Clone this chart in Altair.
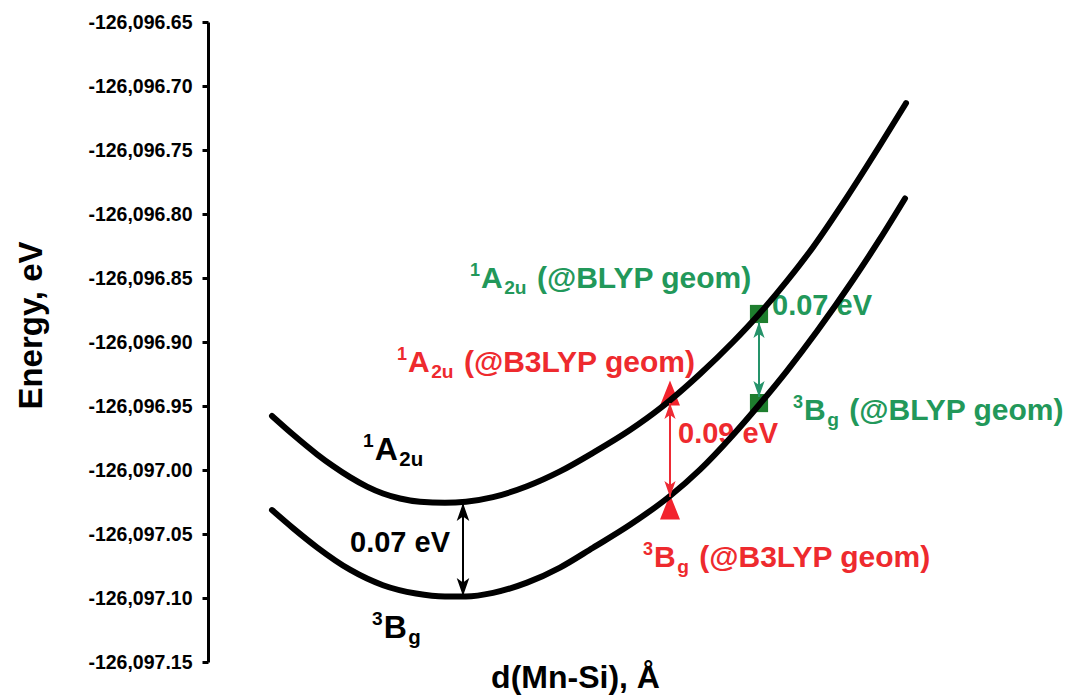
import altair as alt
import pandas as pd

# ---------------- data ----------------
# x: position along d(Mn-Si) (arbitrary units, axis unlabeled); y: energy in eV
d_1A2u = [64, 85, 109, 125, 142, 159, 175, 192, 212, 237, 258, 285, 319, 352,
          385, 422, 452, 462, 492, 525, 551, 579, 605, 639, 672, 698]
E_1A2u = [-126096.9578, -126096.9723, -126096.9877, -126096.9969, -126097.0056,
          -126097.0130, -126097.0184, -126097.0223, -126097.0248, -126097.0256,
          -126097.0248, -126097.0212, -126097.0127, -126097.0011, -126096.9866,
          -126096.9688, -126096.9519, -126096.9456, -126096.9250, -126096.9000,
          -126096.8783, -126096.8523, -126096.8259, -126096.7868, -126096.7463,
          -126096.7134]

d_3Bg = [64, 85, 109, 142, 175, 208, 237, 258, 285, 319, 352, 385, 422, 462,
         492, 525, 551, 579, 609, 645, 672, 697]
E_3Bg = [-126097.0313, -126097.0454, -126097.0604, -126097.0779, -126097.0900,
         -126097.0965, -126097.0988, -126097.0988, -126097.0960, -126097.0880,
         -126097.0762, -126097.0607, -126097.0428, -126097.0203, -126096.9997,
         -126096.9726, -126096.9492, -126096.9225, -126096.8916, -126096.8516,
         -126096.8195, -126096.7879]

# single-point markers
mk_d = [462, 462, 551, 551]
mk_E = [-126096.9398, -126097.0289, -126096.8781, -126096.9477]
mk_geom = ["B3LYP", "B3LYP", "BLYP", "BLYP"]

# double arrows (gap indicators)
arr_d = [255, 462, 551]
arr_top = [-126097.0258, -126096.9477, -126096.8844]
arr_bot = [-126097.0984, -126097.0211, -126096.9430]
arr_group = ["state", "B3LYP", "BLYP"]

# state labels: sup, main, sub, rest
lab_d = [155, 164, 262, 189, 585, 435]
lab_E = [-126096.9922, -126097.1313, -126096.8578, -126096.9234, -126096.9609, -126097.0758]
lab_sup = ["1", "3", "1", "1", "3", "3"]
lab_main = ["A", "B", "A", "A", "B", "B"]
lab_sub = ["2u", "g", "2u", "2u", "g", "g"]
lab_rest = ["", "", "(@BLYP geom)", "(@B3LYP geom)", "(@BLYP geom)", "(@B3LYP geom)"]
lab_group = ["state", "state", "BLYP", "B3LYP", "BLYP", "B3LYP"]

# gap labels
gap_d = [142, 564, 470]
gap_E = [-126097.0641, -126096.8789, -126096.9789]
gap_text = ["0.07 eV", "0.07 eV", "0.09 eV"]
gap_group = ["state", "BLYP", "B3LYP"]

y_ticks = [-126097.15, -126097.10, -126097.05, -126097.00, -126096.95, -126096.90,
           -126096.85, -126096.80, -126096.75, -126096.70, -126096.65]

# ---------------- styling ----------------
TEXT_COL = {"state": "#000000", "BLYP": "#22985A", "B3LYP": "#EE2A2E"}
ARROW_COL = {"state": "#000000", "BLYP": "#25936A", "B3LYP": "#EE2A34"}
FONT = "Liberation Sans"
W, H = 850, 640
Y0, Y1 = -126097.15, -126096.65
PX_PER_EV = H / (Y1 - Y0)

ARIAL_B = {'0': .556, '1': .556, '2': .556, '3': .556, '7': .556, '9': .556,
           'A': .722, 'B': .722, 'u': .611, 'g': .611, ' ': .278}

def tw(s, size):
    return sum(ARIAL_B.get(c, .6) for c in s) * size

pieces = []
for i in range(len(lab_d)):
    M = 32 if lab_group[i] == "state" else 30
    S, B = 0.6 * M, 0.64 * M
    col = TEXT_COL[lab_group[i]]
    x = lab_d[i]
    yb = lab_E[i]
    pieces.append(dict(d=x, E=yb + 0.4 * M / PX_PER_EV, text=lab_sup[i], size=S, color=col))
    x += tw(lab_sup[i], S) + 1
    pieces.append(dict(d=x, E=yb, text=lab_main[i], size=M, color=col))
    x += tw(lab_main[i], M) + 1.5
    pieces.append(dict(d=x, E=yb - 0.2 * M / PX_PER_EV, text=lab_sub[i], size=B, color=col))
    x += tw(lab_sub[i], B) + tw(" ", M) + 2
    if lab_rest[i]:
        pieces.append(dict(d=x, E=yb, text=lab_rest[i], size=M, color=col))
for i in range(len(gap_d)):
    pieces.append(dict(d=gap_d[i], E=gap_E[i], text=gap_text[i], size=29,
                       color=TEXT_COL[gap_group[i]]))
pieces_df = pd.DataFrame(pieces)

curves_df = pd.concat([
    pd.DataFrame({"d": d_1A2u, "E": E_1A2u, "state": "1A2u"}),
    pd.DataFrame({"d": d_3Bg, "E": E_3Bg, "state": "3Bg"}),
])
markers_df = pd.DataFrame({"d": mk_d, "E": mk_E, "geom": mk_geom})
arrows_df = pd.DataFrame({"d": arr_d, "E": arr_top, "E2": arr_bot,
                          "color": [ARROW_COL[g] for g in arr_group],
                          "head": [324 if g == "state" else 256 for g in arr_group]})
heads_up = arrows_df[["d", "E", "color", "head"]]
heads_dn = arrows_df[["d", "E2", "color", "head"]].rename(columns={"E2": "E"})

xs = alt.Scale(domain=[0, W], nice=False, zero=False)
ys = alt.Scale(domain=[Y0, Y1], nice=False, zero=False)
x_enc = alt.X("d:Q", scale=xs, axis=alt.Axis(
    domain=False, ticks=False, labels=False, grid=False,
    title="d(Mn-Si), Å", titleFont=FONT, titleFontWeight="bold", titleFontSize=32,
    titleColor="black", titleX=367, titleY=25, titleBaseline="alphabetic",
    titleAlign="center"))
y_enc = alt.Y("E:Q", scale=ys, axis=alt.Axis(
    values=y_ticks, grid=False,
    labelExpr="replace(format(datum.value, ',.2f'), '−', '-')",
    labelFont=FONT, labelFontWeight="bold", labelFontSize=19.5, labelColor="black",
    labelPadding=10, tickSize=6, tickWidth=3, tickColor="black",
    domainColor="black", domainWidth=3,
    title="Energy, eV", titleFont=FONT, titleFontWeight="bold", titleFontSize=33,
    titleColor="black", titleX=-167, titleY=303, titleBaseline="alphabetic",
    titleAlign="center", titleAngle=270))

squares = alt.Chart(markers_df).transform_filter(alt.datum.geom == "BLYP").mark_square(
    size=330, color="#1E7E2E", opacity=1).encode(x=x_enc, y=y_enc)
tris = alt.Chart(markers_df).transform_filter(alt.datum.geom == "B3LYP").mark_point(
    shape="M0,-1.25L1,1.25L-1,1.25Z", size=400, filled=True, opacity=1,
    color="#F2232D", strokeWidth=0).encode(x=x_enc, y=y_enc)

texts = alt.Chart(pieces_df).mark_text(
    align="left", baseline="alphabetic", font=FONT, fontWeight="bold").encode(
    x=x_enc, y=y_enc, text="text:N",
    size=alt.Size("size:Q", scale=None),
    color=alt.Color("color:N", scale=None))

curves = alt.Chart(curves_df).mark_line(
    interpolate="monotone", strokeWidth=6, strokeCap="round", color="black").encode(
    x=x_enc, y=y_enc, detail="state:N")

rules = alt.Chart(arrows_df).mark_rule(strokeWidth=2).encode(
    x=x_enc, y=y_enc, y2="E2:Q", color=alt.Color("color:N", scale=None))
up = alt.Chart(heads_up).mark_point(
    shape="M0,0L0.7,2L0,1.5L-0.7,2Z", filled=True, opacity=1, strokeWidth=0).encode(
    x=x_enc, y=y_enc, color=alt.Color("color:N", scale=None),
    size=alt.Size("head:Q", scale=None))
dn = alt.Chart(heads_dn).mark_point(
    shape="M0,0L0.7,-2L0,-1.5L-0.7,-2Z", filled=True, opacity=1, strokeWidth=0).encode(
    x=x_enc, y=y_enc, color=alt.Color("color:N", scale=None),
    size=alt.Size("head:Q", scale=None))

chart = alt.layer(squares, tris, texts, curves, rules, up, dn).properties(
    width=W, height=H,
    autosize=alt.AutoSizeParams(type="none"),
    padding={"left": 200, "top": 14, "right": 6, "bottom": 34},
    background="white",
).configure_view(stroke=None)

chart.save("out.html", embed_options={"renderer": "svg", "actions": False})
